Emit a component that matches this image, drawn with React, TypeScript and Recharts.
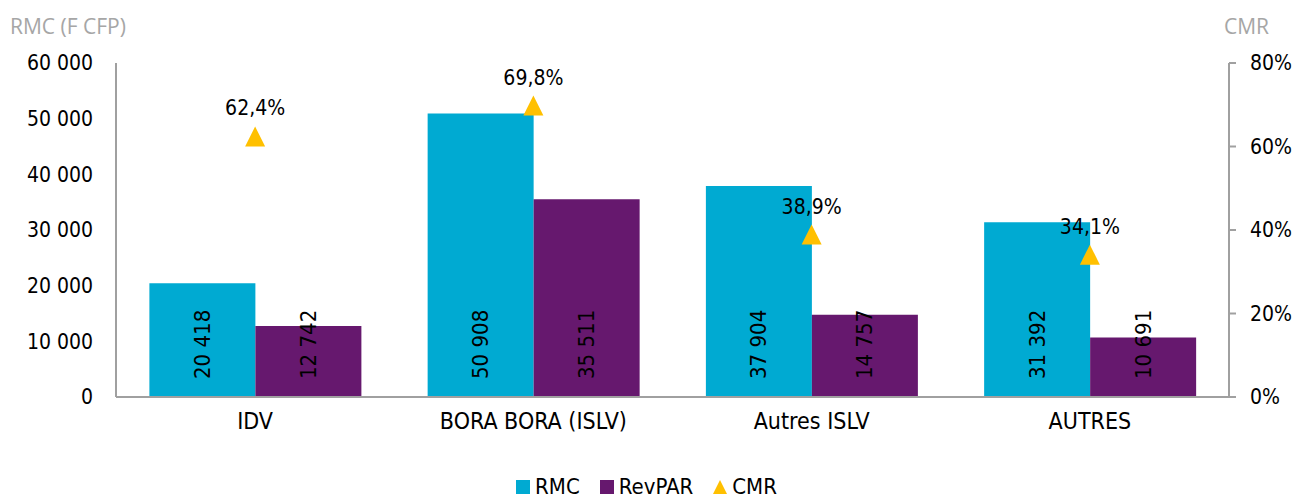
import React from 'react';
import { ComposedChart, Bar, Line, XAxis, YAxis, Legend, LabelList } from 'recharts';

const categories = ['IDV', 'BORA BORA (ISLV)', 'Autres ISLV', 'AUTRES'];
const rmc = [20418, 50908, 37904, 31392];
const revpar = [12742, 35511, 14757, 10691];
const cmr = [62.4, 69.8, 38.9, 34.1];
const leftTicks = [0, 10000, 20000, 30000, 40000, 50000, 60000];
const rightTicks = [0, 20, 40, 60, 80];
const legendOrder = ['RMC', 'RevPAR', 'CMR'];

const data = categories.map((c, i) => ({ name: c, RMC: rmc[i], RevPAR: revpar[i], CMR: cmr[i] }));

const FONT = '"DejaVu Sans Condensed", "DejaVu Sans", sans-serif';
const TITLE_FONT = '"Open Sans", sans-serif';
const CYAN = '#00AAD2';
const PURPLE = '#66186E';
const YELLOW = '#FFC000';
const AXIS = '#A0A0A0';
const seriesColor: Record<string, string> = { RMC: CYAN, RevPAR: PURPLE, CMR: YELLOW };

const fmtThousands = (v: number) => {
  const s = Math.round(v).toString();
  return s.replace(/\B(?=(\d{3})+(?!\d))/g, ' ');
};

const BarValueLabel = (props: any) => {
  const { x, y, width, height, value } = props;
  const cx = x + width / 2;
  const cy = y + height - 18;
  return (
    <text
      x={cx}
      y={cy}
      transform={`rotate(-90, ${cx}, ${cy})`}
      textAnchor="start"
      dominantBaseline="central"
      fontFamily={FONT}
      fontSize={22}
      fill="#000"
    >
      {fmtThousands(value)}
    </text>
  );
};

const CmrLabel = (props: any) => {
  const { x, y, value } = props;
  return (
    <text x={x} y={y - 28} textAnchor="middle" dominantBaseline="central" fontFamily={FONT} fontSize={21} fill="#000">
      {value.toFixed(1).replace('.', ',') + '%'}
    </text>
  );
};

const TriangleDot = (props: any) => {
  const { cx, cy } = props;
  if (cx == null || cy == null) return null;
  return <path d={`M${cx},${cy - 10}L${cx + 10},${cy + 10}L${cx - 10},${cy + 10}Z`} fill={YELLOW} />;
};

const LeftTitle = () => (
  <text x={10} y={34} fontFamily={TITLE_FONT} fontSize={21} fill="#A6A6A6">RMC (F CFP)</text>
);
const RightTitle = () => (
  <text x={1224} y={34} fontFamily={TITLE_FONT} fontSize={21} fill="#A6A6A6">CMR</text>
);

const LegendContent = (props: any) => {
  const payload: any[] = props.payload || [];
  const items = legendOrder
    .map((k) => payload.find((p) => p.value === k))
    .filter(Boolean);
  return (
    <div style={{ display: 'flex', justifyContent: 'center', alignItems: 'center', fontFamily: FONT, fontSize: 22, lineHeight: '24px', color: '#000' }}>
      {items.map((p: any, i: number) => (
        <div key={p.value} style={{ display: 'flex', alignItems: 'center', marginRight: i < items.length - 1 ? 20 : 0 }}>
          <svg width={14} height={14} style={{ marginRight: 5 }}>
            {p.value === 'CMR' ? (
              <path d="M7,0L14,14L0,14Z" fill={seriesColor[p.value]} />
            ) : (
              <rect x={0} y={0} width={14} height={14} fill={seriesColor[p.value]} />
            )}
          </svg>
          <span>{p.value}</span>
        </div>
      ))}
    </div>
  );
};

export default function App() {
  return (
    <div style={{ position: 'absolute', left: 0, top: 0, background: '#fff' }}>
      <ComposedChart
        width={1293}
        height={501}
        data={data}
        margin={{ top: 63, right: 0, bottom: 2, left: 0 }}
        barCategoryGap="12%"
        barGap={0}
      >
        <XAxis
          dataKey="name"
          axisLine={{ stroke: AXIS, strokeWidth: 2 }}
          tickLine={false}
          tick={{ fontFamily: FONT, fontSize: 23, fill: '#000' }}
          tickMargin={10}
          height={78}
          interval={0}
        />
        <YAxis
          yAxisId="left"
          domain={[0, 60000]}
          ticks={leftTicks}
          width={116}
          axisLine={{ stroke: AXIS, strokeWidth: 2 }}
          tickLine={false}
          tickSize={0}
          tickMargin={23}
          tickFormatter={(v: number) => fmtThousands(v)}
          tick={{ fontFamily: FONT, fontSize: 21, fill: '#000' }}
          label={{ content: () => <LeftTitle /> }}
        />
        <YAxis
          yAxisId="right"
          orientation="right"
          domain={[0, 80]}
          ticks={rightTicks}
          width={64}
          axisLine={{ stroke: AXIS, strokeWidth: 2 }}
          tickLine={{ stroke: AXIS, strokeWidth: 2 }}
          tickSize={7}
          tickMargin={14}
          tickFormatter={(v: number) => `${v}%`}
          tick={{ fontFamily: FONT, fontSize: 21, fill: '#000' }}
          label={{ content: () => <RightTitle /> }}
        />
        <Legend verticalAlign="bottom" align="center" content={<LegendContent />} />
        <Bar yAxisId="left" dataKey="RMC" name="RMC" fill={CYAN} legendType="square" isAnimationActive={false}>
          <LabelList dataKey="RMC" content={<BarValueLabel />} />
        </Bar>
        <Bar yAxisId="left" dataKey="RevPAR" name="RevPAR" fill={PURPLE} legendType="square" isAnimationActive={false}>
          <LabelList dataKey="RevPAR" content={<BarValueLabel />} />
        </Bar>
        <Line
          yAxisId="right"
          dataKey="CMR"
          name="CMR"
          stroke="none"
          strokeWidth={0}
          legendType="triangle"
          dot={<TriangleDot />}
          activeDot={false}
          isAnimationActive={false}
        >
          <LabelList dataKey="CMR" content={<CmrLabel />} />
        </Line>
      </ComposedChart>
    </div>
  );
}
